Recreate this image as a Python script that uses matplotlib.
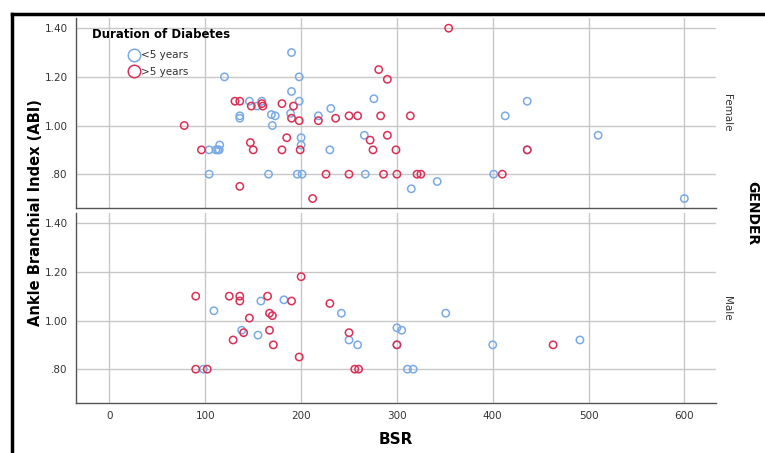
import matplotlib.pyplot as plt
from matplotlib.lines import Line2D
from matplotlib.ticker import FuncFormatter

# Female, duration <5 years
female_lt5_bsr = [190, 120, 198, 190, 198, 146, 159, 154, 136, 136, 169, 173, 170, 189, 218,
                  231, 276, 266, 200, 200, 115, 104, 111, 113, 114.5, 230, 104, 166, 196, 201,
                  267, 436, 413, 510, 436, 401, 315, 342, 600]
female_lt5_abi = [1.30, 1.20, 1.20, 1.14, 1.10, 1.10, 1.10, 1.08, 1.04, 1.03, 1.045, 1.04, 1.00, 1.05, 1.04,
                  1.07, 1.11, 0.96, 0.95, 0.92, 0.92, 0.90, 0.90, 0.90, 0.90, 0.90, 0.80, 0.80, 0.80, 0.80,
                  0.80, 1.10, 1.04, 0.96, 0.90, 0.80, 0.74, 0.77, 0.70]

# Female, duration >5 years
female_gt5_bsr = [281, 290, 131, 136, 159, 148, 160, 180, 192, 190, 198, 218, 236, 250, 259,
                  283, 78, 185, 272, 290, 96, 147, 150, 180, 199, 275, 299, 226, 250, 286,
                  300, 136, 212, 354, 314, 436, 321, 325, 410]
female_gt5_abi = [1.23, 1.19, 1.10, 1.10, 1.09, 1.08, 1.08, 1.09, 1.08, 1.03, 1.02, 1.02, 1.03, 1.04, 1.04,
                  1.04, 1.00, 0.95, 0.94, 0.96, 0.90, 0.93, 0.90, 0.90, 0.90, 0.90, 0.90, 0.80, 0.80, 0.80,
                  0.80, 0.75, 0.70, 1.40, 1.04, 0.90, 0.80, 0.80, 0.80]

# Male, duration <5 years
male_lt5_bsr = [109, 158, 182, 138, 155, 98, 242, 250, 259, 300, 305, 351, 311, 317, 400, 491, 300]
male_lt5_abi = [1.04, 1.08, 1.085, 0.96, 0.94, 0.80, 1.03, 0.92, 0.90, 0.97, 0.96, 1.03, 0.80, 0.80,
                0.90, 0.92, 0.90]

# Male, duration >5 years
male_gt5_bsr = [90, 125, 136, 136, 165, 190, 200, 146, 167, 170, 140, 167, 129, 171, 198,
                90, 102, 230, 250, 256, 260, 300, 463]
male_gt5_abi = [1.10, 1.10, 1.10, 1.08, 1.10, 1.08, 1.18, 1.01, 1.03, 1.02, 0.95, 0.96, 0.92, 0.90, 0.85,
                0.80, 0.80, 1.07, 0.95, 0.80, 0.80, 0.90, 0.90]

x_ticks = [0, 100, 200, 300, 400, 500, 600]
y_ticks = [0.80, 1.00, 1.20, 1.40]
panel_labels = ["Female", "Male"]
legend_labels = ["<5 years", ">5 years"]

blue = "#7aaae6"
red = "#dc2f55"
grid_color = "#c8c8c8"

fig = plt.figure(figsize=(7.65, 4.53), dpi=100)

# black frame on the left and top edges
fig.add_artist(Line2D([0.0157, 0.0157], [0, 0.97], transform=fig.transFigure, color="black", lw=2.5))
fig.add_artist(Line2D([0.0157, 1.0], [0.97, 0.97], transform=fig.transFigure, color="black", lw=2.5))

ax_top = fig.add_axes([0.0993, 0.5408, 0.8366, 0.4195])
ax_bot = fig.add_axes([0.0993, 0.1104, 0.8366, 0.4195])

panels = [
    (ax_top, female_lt5_bsr, female_lt5_abi, female_gt5_bsr, female_gt5_abi),
    (ax_bot, male_lt5_bsr, male_lt5_abi, male_gt5_bsr, male_gt5_abi),
]


def fmt_abi(v, pos):
    s = "{:.2f}".format(v)
    return s[1:] if s.startswith("0") else s


for i, (ax, bx, by, rx, ry) in enumerate(panels):
    ax.scatter(bx, by, s=28, facecolors="none", edgecolors=blue, linewidths=1.1, zorder=3)
    ax.scatter(rx, ry, s=28, facecolors="none", edgecolors=red, linewidths=1.1, zorder=3)
    ax.set_xlim(-35, 633)
    ax.set_ylim(0.661, 1.442)
    ax.set_xticks(x_ticks)
    ax.set_yticks(y_ticks)
    ax.yaxis.set_major_formatter(FuncFormatter(fmt_abi))
    ax.grid(True, color=grid_color, lw=1)
    ax.set_axisbelow(True)
    ax.tick_params(length=0, labelsize=7.5, colors="#333333", pad=6)
    for side in ["top", "right"]:
        ax.spines[side].set_visible(False)
    for side in ["left", "bottom"]:
        ax.spines[side].set_color("#555555")
        ax.spines[side].set_linewidth(1)
    ax.text(1.01, 0.5, panel_labels[i], transform=ax.transAxes, rotation=-90,
            va="center", ha="left", fontsize=7.5, color="#333333")

ax_top.tick_params(labelbottom=False)

ax_bot.set_xlabel("BSR", fontsize=11, fontweight="bold", labelpad=8)
fig.text(0.046, 0.53, "Ankle Branchial Index (ABI)", rotation=90, va="center", ha="center",
         fontsize=10.5, fontweight="bold")
fig.text(0.983, 0.53, "GENDER", rotation=-90, va="center", ha="center",
         fontsize=10, fontweight="bold")

# legend: bold title, entries indented below it
ax_top.text(0.025, 0.912, "Duration of Diabetes", transform=ax_top.transAxes,
            ha="left", va="center", fontsize=8.5, fontweight="bold")
handles = [
    Line2D([], [], ls="none", marker="o", markersize=9, markerfacecolor="none",
           markeredgecolor=c, markeredgewidth=1.1, label=lab)
    for c, lab in zip([blue, red], legend_labels)
]
leg = ax_top.legend(handles=handles, loc="upper left", bbox_to_anchor=(0.082, 0.83),
                    frameon=False, fontsize=7.5, handlelength=1.0, handletextpad=0.2,
                    labelspacing=0.65, borderpad=0, borderaxespad=0)
for t in leg.get_texts():
    t.set_color("#333333")

fig.savefig("out.png", dpi=100)
